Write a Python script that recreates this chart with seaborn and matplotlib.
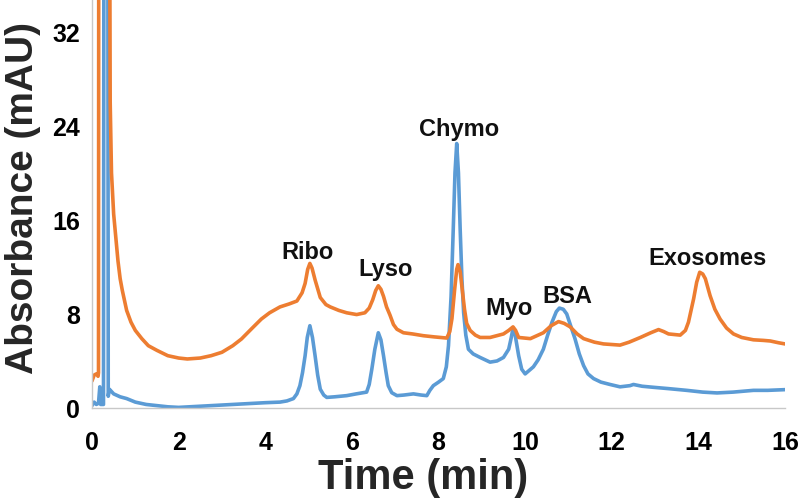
import numpy as np
import pandas as pd
import matplotlib
matplotlib.use("Agg")
import matplotlib.pyplot as plt
import seaborn as sns

# ---- data ----
orange_t = [0.0, 0.05, 0.1, 0.14, 0.15, 0.16, 0.22, 0.23, 0.41, 0.42, 0.45, 0.5, 0.55, 0.6, 0.65, 0.7, 0.8, 0.9,
            1.0, 1.15, 1.3, 1.5, 1.75, 2.0, 2.2, 2.5, 2.75, 3.0, 3.25, 3.45, 3.7, 3.91, 4.1, 4.34, 4.55,
            4.73, 4.85, 4.92, 4.98, 5.03, 5.08, 5.15, 5.27, 5.4, 5.5, 5.7, 5.88, 6.11, 6.3, 6.4, 6.48,
            6.55, 6.61, 6.67, 6.73, 6.8, 6.88, 6.96, 7.04, 7.19, 7.4, 7.65, 7.9, 8.19, 8.26, 8.31, 8.37,
            8.42, 8.45, 8.5, 8.55, 8.6, 8.65, 8.73, 8.85, 8.96, 9.19, 9.5, 9.62, 9.72, 9.78, 9.85, 10.12,
            10.42, 10.6, 10.77, 10.9, 11.04, 11.2, 11.35, 11.6, 11.81, 12.0, 12.19, 12.4, 12.66, 12.9,
            13.08, 13.2, 13.31, 13.58, 13.7, 13.77, 13.83, 13.89, 13.96, 14.03, 14.1, 14.16, 14.27,
            14.38, 14.5, 14.65, 14.81, 15.0, 15.27, 15.5, 15.66, 15.85, 16.0]
orange_a = [2.3, 2.8, 2.9, 2.7, 3.0, 70.0, 70.0, 40.0, 40.0, 26.0, 20.0, 16.5, 14.5, 12.5, 11.0, 10.0, 8.3, 7.3,
            6.6, 5.9, 5.3, 4.9, 4.45, 4.25, 4.17, 4.25, 4.45, 4.74, 5.3, 5.87, 6.8, 7.57, 8.1, 8.6, 8.85,
            9.1, 9.8, 10.6, 11.8, 12.3, 11.9, 10.9, 9.4, 8.8, 8.6, 8.3, 8.1, 7.95, 8.1, 8.5, 9.2,
            10.0, 10.4, 10.1, 9.5, 8.6, 7.9, 7.1, 6.7, 6.4, 6.3, 6.15, 6.05, 5.95, 6.5, 7.6, 10.0,
            11.8, 12.2, 11.6, 10.0, 8.4, 7.2, 6.6, 6.2, 6.0, 6.0, 6.3, 6.6, 6.9, 6.6, 6.0, 5.9,
            6.4, 7.0, 7.35, 7.2, 6.9, 6.3, 5.9, 5.6, 5.45, 5.4, 5.35, 5.6, 6.0, 6.4,
            6.67, 6.5, 6.3, 6.2, 6.6, 7.3, 8.3, 9.3, 10.7, 11.55, 11.4, 11.0, 9.55,
            8.4, 7.57, 6.8, 6.3, 6.0, 5.8, 5.75, 5.7, 5.55, 5.45]

blue_t = [0.0, 0.05, 0.1, 0.15, 0.18, 0.2, 0.265, 0.28, 0.36, 0.375, 0.4, 0.45, 0.5, 0.65, 0.8, 1.0, 1.25,
          1.5, 1.75, 2.0, 2.5, 3.0, 3.5, 4.0, 4.34, 4.5, 4.65, 4.73, 4.8, 4.86, 4.92, 4.97, 5.03, 5.09,
          5.15, 5.21, 5.27, 5.35, 5.42, 5.6, 5.88, 6.1, 6.34, 6.4, 6.46, 6.53, 6.61, 6.67, 6.73, 6.79,
          6.84, 6.92, 7.04, 7.2, 7.42, 7.6, 7.73, 7.8, 7.88, 8.0, 8.11, 8.18, 8.23, 8.29, 8.34, 8.38,
          8.42, 8.46, 8.5, 8.54, 8.58, 8.63, 8.69, 8.8, 8.96, 9.19, 9.35, 9.5, 9.62, 9.68, 9.72, 9.77,
          9.85, 9.92, 10.0, 10.19, 10.3, 10.42, 10.52, 10.62, 10.72, 10.79, 10.88, 10.96, 11.05, 11.15,
          11.25, 11.35, 11.45, 11.58, 11.75, 11.96, 12.19, 12.42, 12.5, 12.7, 12.96, 13.3, 13.73,
          14.1, 14.43, 14.8, 15.27, 15.6, 16.0]
blue_a = [0.2, 0.5, 0.3, 0.4, 1.8, 0.3, 0.3, 65.0, 65.0, 1.0, 1.6, 1.4, 1.2, 0.95, 0.8, 0.5, 0.3,
          0.2, 0.1, 0.05, 0.15, 0.25, 0.35, 0.45, 0.5, 0.6, 0.8, 1.2, 1.9, 3.0, 4.45, 6.0, 7.0, 6.0,
          4.45, 2.8, 1.6, 1.1, 0.9, 0.95, 1.05, 1.2, 1.35, 2.0, 3.3, 5.0, 6.4, 5.8, 4.45, 3.0,
          1.9, 1.3, 1.05, 1.1, 1.2, 1.1, 1.05, 1.5, 1.9, 2.2, 2.5, 3.5, 5.3, 9.5, 15.2, 20.0,
          22.5, 20.0, 15.2, 11.0, 8.1, 6.2, 5.0, 4.6, 4.3, 3.9, 4.0, 4.3, 5.0, 6.0, 6.8, 6.2,
          4.45, 3.3, 2.9, 3.5, 4.1, 5.0, 6.2, 7.3, 8.2, 8.5, 8.4, 8.0, 7.0, 5.9,
          4.6, 3.6, 2.9, 2.5, 2.2, 2.0, 1.8, 1.9, 2.0, 1.85, 1.76, 1.65, 1.5,
          1.35, 1.28, 1.35, 1.5, 1.5, 1.56]

peak_names = ["Ribo", "Lyso", "Chymo", "Myo", "BSA", "Exosomes"]
peak_t = [4.98, 6.77, 8.48, 9.63, 10.98, 14.2]
peak_label_a = [12.8, 11.35, 23.2, 8.0, 9.0, 12.25]

x_ticks = [0, 2, 4, 6, 8, 10, 12, 14, 16]
y_ticks = [0, 8, 16, 24, 32]

ORANGE = "#ED7D31"
BLUE = "#5B9BD5"

sns.set_theme(style="white")
plt.rcParams["font.family"] = ["Liberation Sans", "DejaVu Sans"]

df_o = pd.DataFrame({"t": orange_t, "a": orange_a})
df_b = pd.DataFrame({"t": blue_t, "a": blue_a})

fig = plt.figure(figsize=(8.0, 5.02), dpi=100)
ax = fig.add_axes([0.115, 0.1853, 0.8663, 0.8147])

sns.lineplot(data=df_b, x="t", y="a", ax=ax, color=BLUE, lw=2.6, estimator=None, sort=False)
sns.lineplot(data=df_o, x="t", y="a", ax=ax, color=ORANGE, lw=2.6, estimator=None, sort=False)

ax.set_xlim(0, 16)
ax.set_ylim(0, 34.8)
ax.set_xticks(x_ticks)
ax.set_yticks(y_ticks)
ax.set_xticklabels([str(v) for v in x_ticks], fontsize=18, fontweight="bold")
ax.set_yticklabels([str(v) for v in y_ticks], fontsize=18, fontweight="bold")
ax.tick_params(axis="both", length=0, colors="black")
ax.tick_params(axis="x", pad=16)
ax.tick_params(axis="y", pad=8.6)

for s in ["top", "right"]:
    ax.spines[s].set_visible(False)
for s in ["left", "bottom"]:
    ax.spines[s].set_color("#c8c8c8")
    ax.spines[s].set_linewidth(1.0)

ax.set_xlabel("Time (min)", fontsize=30, fontweight="bold")
ax.set_ylabel("Absorbance (mAU)", fontsize=28, fontweight="bold")
ax.xaxis.set_label_coords(0.478, -0.119)
ax.yaxis.set_label_coords(-0.073, 0.517)

for name, t, a in zip(peak_names, peak_t, peak_label_a):
    ax.text(t, a, name, ha="center", va="baseline", fontsize=17, fontweight="bold", color="#111111")

ax.set_facecolor("white")
fig.savefig("out.png", dpi=100, facecolor="white")
